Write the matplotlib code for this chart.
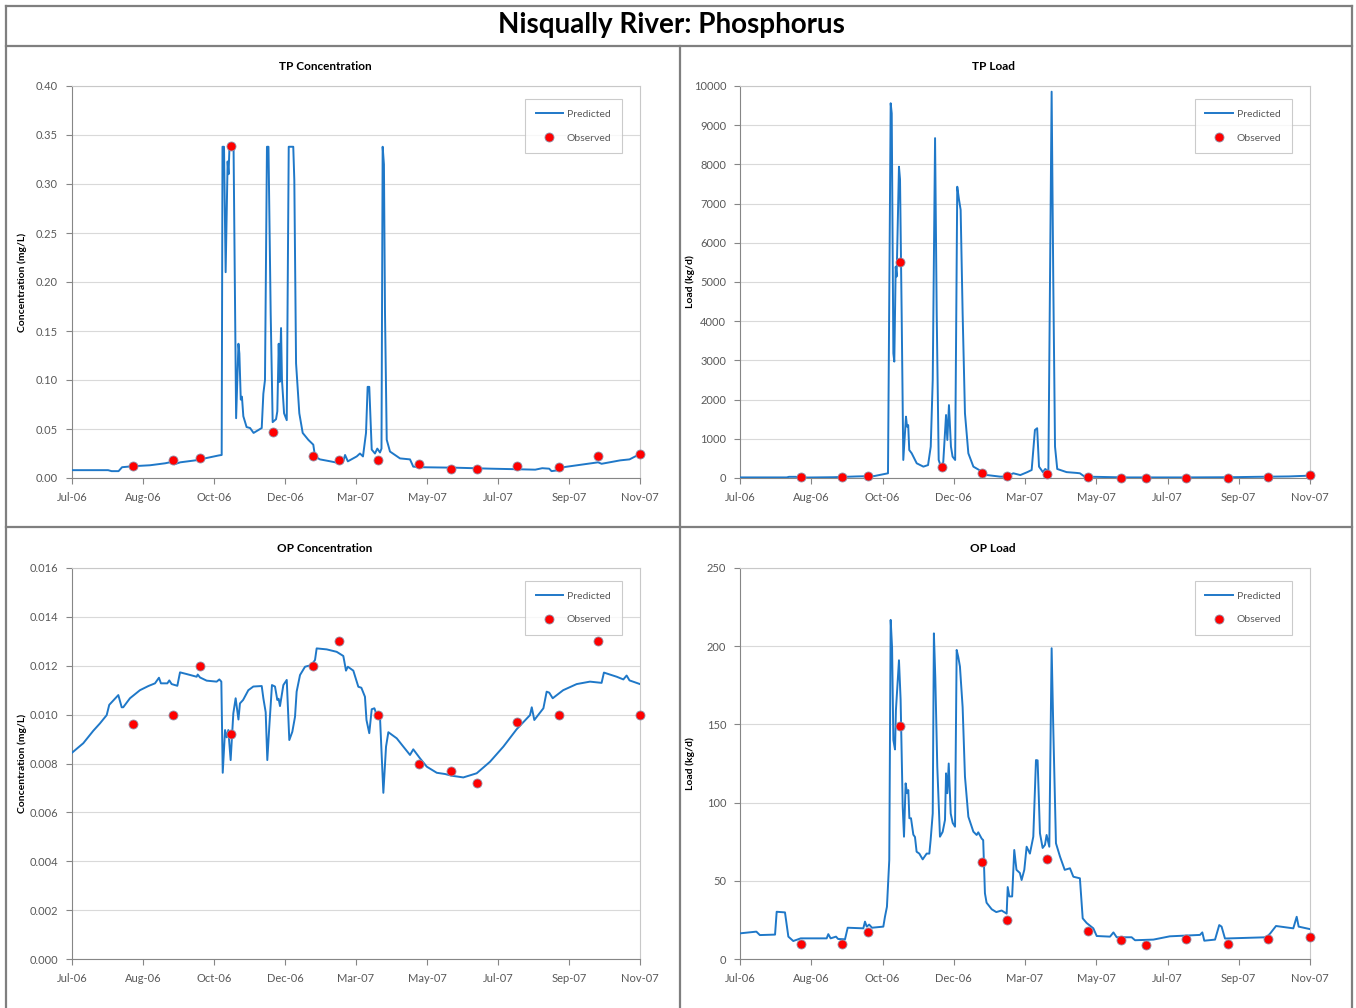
import numpy as np
import matplotlib
matplotlib.use("Agg")
import matplotlib.pyplot as plt
from matplotlib.lines import Line2D

plt.rcParams['font.family'] = ['Lato', 'DejaVu Sans']

# x axis: days since 1 Jul 2006, Excel-style ticks every 61 days
tick_days = [0, 61, 122, 183, 244, 305, 366, 427, 488]
tick_labels = ['Jul-06', 'Aug-06', 'Oct-06', 'Dec-06', 'Mar-07',
               'May-07', 'Jul-07', 'Sep-07', 'Nov-07']

# sampling days of the observations
obs_day = [52, 87, 110, 137, 173, 207, 229, 263, 298, 326, 348, 382, 418, 452, 488]

tp_conc_obs = [0.012, 0.018, 0.020, 0.339, 0.047, 0.022, 0.018, 0.018, 0.014,
               0.009, 0.0095, 0.012, 0.011, 0.022, 0.024]
tp_load_obs = [20, 30, 50, 5500, 270, 120, 50, 104, 30, 10, 5, 10, 10, 30, 80]
op_conc_obs = [0.0096, 0.010, 0.012, 0.0092, np.nan, 0.012, 0.013, 0.010, 0.008,
               0.0077, 0.0072, 0.0097, 0.010, 0.013, 0.010]
op_load_obs = [9.4, 9.4, 17.5, 149, np.nan, 62, 25, 64, 18, 12, 9, 12.6, 9.8, 12.8, 13.9]

# predicted series, (day, value)
tp_conc_pred = [
    (0, 0.008), (20, 0.008), (31, 0.008), (34, 0.007), (40, 0.007), (43, 0.011),
    (52, 0.012), (67, 0.013), (80, 0.015), (84, 0.016), (88, 0.014), (93, 0.016),
    (106, 0.018), (118, 0.021), (126, 0.023), (128.6, 0.0235), (129.3, 0.338),
    (130.6, 0.338), (132, 0.21), (133.7, 0.323), (134.5, 0.31), (135.3, 0.338),
    (138.8, 0.338), (141, 0.061), (143, 0.137), (143.8, 0.127), (145, 0.08),
    (146, 0.083), (147.2, 0.063), (150, 0.052), (153, 0.051), (156, 0.046),
    (163, 0.051), (164.4, 0.086), (165.8, 0.1), (167.5, 0.338), (168.8, 0.338),
    (170.7, 0.168), (172.4, 0.057), (175.3, 0.06), (176.4, 0.068), (177.6, 0.137),
    (178.4, 0.098), (179.6, 0.153), (180.4, 0.1), (182.2, 0.066), (184.5, 0.059),
    (186.2, 0.338), (190.1, 0.338), (191, 0.304), (192.5, 0.117), (195.3, 0.066),
    (198.2, 0.046), (203, 0.039), (207.3, 0.034), (208.8, 0.022), (213, 0.019),
    (222, 0.017), (230.3, 0.015), (232.8, 0.016), (234.6, 0.0235), (237, 0.017),
    (244.6, 0.022), (247.4, 0.025), (250, 0.022), (252.6, 0.046), (254, 0.093),
    (255.4, 0.093), (257.5, 0.029), (260.3, 0.025), (262.3, 0.03), (264.6, 0.026),
    (265.9, 0.03), (266.9, 0.338), (268, 0.32), (268.9, 0.17), (270.4, 0.039),
    (273.2, 0.027), (281.8, 0.020), (290.4, 0.019), (293.2, 0.0116), (300, 0.011),
    (330, 0.0105), (360, 0.0095), (380, 0.009), (398, 0.0085), (404, 0.010),
    (410, 0.0095), (412, 0.007), (418, 0.008), (422, 0.011), (440, 0.014),
    (452, 0.016), (455, 0.0145), (471, 0.018), (479, 0.019), (488, 0.0245)]

tp_load_pred = [
    (0, 15), (40, 15), (42, 30), (48, 30), (50, 10), (80, 20), (100, 40), (115, 50),
    (126.7, 120), (129, 9560), (129.9, 9300), (131.3, 3180), (132.1, 2970),
    (133.3, 5390), (134.1, 5140), (136.1, 7940), (137, 7620), (138.4, 4200),
    (139.8, 460), (142.1, 1565), (143, 1310), (144, 1350), (144.9, 714), (147, 630),
    (151.3, 375), (157, 290), (161, 330), (163.3, 800), (165, 2500), (167, 8670),
    (168.4, 4200), (170.1, 460), (172, 290), (174, 400), (176.4, 1607), (177.5, 970),
    (178.9, 1860), (180.6, 800), (182, 545), (184.2, 460), (186, 7430), (187.5, 7100),
    (188.9, 6840), (190.6, 4200), (192.6, 1650), (195.5, 630), (199.8, 290),
    (205, 200), (211, 77), (222.6, 35), (227.6, 35), (234, 120), (240, 75),
    (246, 150), (249.7, 204), (252.5, 1225), (254.4, 1270), (256, 290), (259.3, 150),
    (261.3, 230), (264, 170), (266.8, 9855), (268.2, 5050), (269.7, 800),
    (271.6, 230), (279.6, 150), (288, 130), (291, 120), (295, 35), (330, 15),
    (380, 15), (420, 20), (442, 30), (470, 40), (488, 60)]

op_conc_pred = [
    (0, 0.00844), (9.7, 0.00883), (18.3, 0.00934), (24, 0.00964), (29.8, 0.00998),
    (32, 0.0104), (39.8, 0.0108), (42.7, 0.0103), (44, 0.0103), (49.8, 0.01067),
    (58.4, 0.0110), (65.6, 0.01117), (71.3, 0.01128), (74.7, 0.01151), (76.4, 0.01128),
    (81.9, 0.01128), (83.6, 0.0114), (85.6, 0.01125), (90.5, 0.01118), (92.8, 0.01173),
    (98.5, 0.01166), (107.1, 0.01155), (108, 0.01164), (110, 0.01152), (115.7, 0.01139),
    (124.3, 0.01135), (126.6, 0.01144), (128.3, 0.01135), (129.5, 0.00762),
    (131.5, 0.00937), (132.9, 0.00907), (134.3, 0.00937), (136.3, 0.00814),
    (138.6, 0.01005), (140.6, 0.01067), (143, 0.0098), (144.3, 0.01046), (147, 0.0106),
    (151.5, 0.0110), (155.8, 0.01115), (163, 0.01117), (164.4, 0.01067),
    (166.4, 0.0101), (167.8, 0.00814), (169.5, 0.0095), (171.8, 0.01121),
    (174.4, 0.01115), (176.4, 0.0106), (177.5, 0.01065), (178.7, 0.01035),
    (181.6, 0.01121), (184.5, 0.01142), (186.7, 0.00896), (189.3, 0.0093),
    (191.6, 0.00991), (193, 0.01094), (195.9, 0.01162), (200.2, 0.01196),
    (205.9, 0.01203), (208.8, 0.01224), (210.2, 0.01271), (218.8, 0.01267),
    (227.4, 0.01257), (233.1, 0.0124), (234, 0.01217), (235.4, 0.0118), (237, 0.01196),
    (241.7, 0.0118), (246, 0.01114), (248.6, 0.0111), (251.7, 0.01073), (253, 0.00978),
    (255.4, 0.00924), (257.5, 0.01022), (259.8, 0.01026), (261.8, 0.00998),
    (264.6, 0.00991), (267.5, 0.0068), (269.8, 0.00869), (271.8, 0.00928),
    (279, 0.00903), (284.5, 0.0087), (290.4, 0.00835), (293.2, 0.00858),
    (299, 0.00821), (304.8, 0.00787), (313.4, 0.00762), (320.5, 0.00757),
    (326.2, 0.0075), (336.2, 0.00743), (347.7, 0.0076), (359.1, 0.00807),
    (370.6, 0.00869), (382, 0.0094), (393.5, 0.00998), (395, 0.0103), (397.2, 0.00978),
    (405, 0.01026), (407.8, 0.01094), (410, 0.01090), (413, 0.01067), (422, 0.0110),
    (433.6, 0.01125), (445, 0.01135), (455, 0.0113), (457, 0.01172), (468, 0.01155),
    (473.7, 0.01144), (476.5, 0.0116), (479, 0.0114), (488, 0.01125)]

op_load_pred = [
    (0, 16.4), (14, 17.5), (17, 15.3), (30, 15.6), (31.4, 30.2), (38.5, 29.8),
    (41.4, 14.3), (45.6, 11.5), (52, 13.2), (74.2, 13.2), (75.6, 15.9), (77.6, 13.2),
    (82.2, 14.3), (84, 12.8), (89.9, 12.6), (92.2, 20), (105.6, 19.6), (107, 23.9),
    (108.5, 20.7), (110.6, 22), (113, 20), (122.7, 20.7), (124.1, 27), (125.8, 33.4),
    (127.8, 63.3), (129, 216.8), (130.2, 199), (131.3, 140), (132.7, 134),
    (133.5, 159.2), (136.1, 191), (137.5, 166), (139.3, 97.4), (140.4, 78.2),
    (141.8, 112.3), (143, 106), (144.1, 108), (145, 90), (146.4, 90), (148.4, 79.5),
    (149.8, 78), (151.2, 68.6), (153.5, 67.4), (156.4, 63.7), (159.8, 67.4),
    (162.1, 67.4), (163.2, 76), (165, 93.1), (166, 208.2), (167.2, 180), (168.9, 123),
    (171.2, 78.2), (173.5, 81.3), (175.5, 88.9), (176.4, 118.7), (177.5, 106),
    (178.7, 125), (180.4, 93), (182.1, 87), (184.1, 84.6), (185.5, 197.6),
    (186.9, 193), (188.3, 187), (190.6, 161), (192.6, 116.6), (195.5, 91),
    (199.8, 81.4), (202.6, 79.3), (204, 81), (205.5, 79), (206.9, 77), (208.2, 76),
    (209.7, 42), (211.1, 36), (215.5, 31.8), (219.4, 30), (224, 31), (228.3, 29),
    (229.2, 46), (230.6, 40), (233, 40), (234.8, 69.7), (236.7, 57), (239.6, 55),
    (241.1, 50.5), (243.4, 57), (245.4, 71.8), (248.2, 67.4), (251.1, 78.2),
    (253.4, 127.2), (254.8, 127), (256.8, 80.4), (259.1, 71), (261.1, 73),
    (262.5, 79.3), (264.8, 71.8), (266.8, 198.7), (268.2, 148), (270.5, 74),
    (274, 65.4), (278, 57), (282.5, 58), (285.4, 52.6), (291, 51.6), (293.4, 26),
    (296.8, 23), (302.5, 19.6), (305.4, 14.7), (316.8, 14.3), (319.7, 17),
    (322.5, 13.9), (335.3, 13.9), (338.2, 12), (353.9, 12.4), (368, 14.5),
    (393.8, 15.4), (395.8, 17), (397.5, 11.7), (406.7, 12.4), (410.3, 21.7),
    (412.3, 20.7), (415.2, 13.1), (450.9, 13.9), (454, 16.4), (458.9, 21.1),
    (473.7, 19.6), (476.6, 27), (478.3, 20.7), (487.4, 19.2)]

panels = [
    ('TP Concentration', 'Concentration (mg/L)', tp_conc_pred, tp_conc_obs,
     np.arange(0, 0.401, 0.05), '{:.2f}', [72, 86, 640, 478]),
    ('TP Load', 'Load (kg/d)', tp_load_pred, tp_load_obs,
     np.arange(0, 10001, 1000), '{:.0f}', [740, 86, 1310, 478]),
    ('OP Concentration', 'Concentration (mg/L)', op_conc_pred, op_conc_obs,
     np.arange(0, 0.0161, 0.002), '{:.3f}', [72, 568, 640, 959]),
    ('OP Load', 'Load (kg/d)', op_load_pred, op_load_obs,
     np.arange(0, 251, 50), '{:.0f}', [740, 568, 1310, 959]),
]

W, H = 1356, 1008
fig = plt.figure(figsize=(W / 100, H / 100), dpi=100)

blue = '#1f78c8'
grey_txt = '#595959'

for title, ylab, pred, obs, yticks, fmt, box in panels:
    x0, y0, x1, y1 = box
    ax = fig.add_axes([x0 / W, 1 - y1 / H, (x1 - x0) / W, (y1 - y0) / H])
    d, v = zip(*pred)
    ax.plot(d, v, color=blue, linewidth=1.4, label='Predicted', zorder=3)
    ax.plot(obs_day, obs, linestyle='none', marker='o', markersize=6.5,
            markerfacecolor='#ff0000', markeredgecolor='#9090a8',
            markeredgewidth=0.6, label='Observed', zorder=4, clip_on=False)
    ax.set_xlim(0, 488)
    ax.set_ylim(yticks[0], yticks[-1])
    ax.set_xticks(tick_days)
    ax.set_xticklabels(tick_labels)
    ax.set_yticks(yticks)
    ax.set_yticklabels([fmt.format(t) for t in yticks])
    ax.tick_params(axis='both', direction='out', length=4, width=0.8,
                   color='#868686', labelsize=8, labelcolor=grey_txt, pad=6)
    ax.grid(axis='y', color='#d9d9d9', linewidth=0.8)
    ax.set_axisbelow(True)
    for s in ['left', 'bottom']:
        ax.spines[s].set_color('#868686')
    for s in ['top', 'right']:
        ax.spines[s].set_color('#c8c8c8')
    leg = ax.legend(loc='upper right', bbox_to_anchor=(0.968, 0.967),
                    fontsize=7.5, frameon=True, fancybox=False, borderpad=1.0,
                    labelspacing=1.4, handlelength=2.6, handletextpad=0.4,
                    borderaxespad=0)
    leg.get_frame().set_edgecolor('#bfbfbf')
    leg.get_frame().set_linewidth(0.8)
    for t in leg.get_texts():
        t.set_color(grey_txt)
    fig.text((x0 + 253) / W, 1 - (y0 - 20) / H,
             title, ha='center', va='center', fontsize=8.5, fontweight='bold')
    fig.text((x0 - 50) / W, 1 - (y0 + y1) / 2 / H, ylab, rotation=90,
             ha='center', va='center', fontsize=7.5, fontweight='bold')

# table-like frame around the panels
frame = '#7f7f7f'
def hline(py, xa, xb):
    fig.add_artist(Line2D([xa / W, xb / W], [1 - py / H, 1 - py / H],
                          color=frame, linewidth=1.6))
def vline(px, ya, yb):
    fig.add_artist(Line2D([px / W, px / W], [1 - ya / H, 1 - yb / H],
                          color=frame, linewidth=1.6))

hline(6, 6, 1352)
hline(46, 6, 1352)
hline(527, 6, 1352)
vline(6, 6, 1008)
vline(1352, 6, 1008)
vline(680, 46, 1008)

fig.text(671 / W, 1 - 25 / H, 'Nisqually River: Phosphorus', ha='center',
         va='center', fontsize=20, fontweight='bold')

plt.savefig('out.png', dpi=100)
